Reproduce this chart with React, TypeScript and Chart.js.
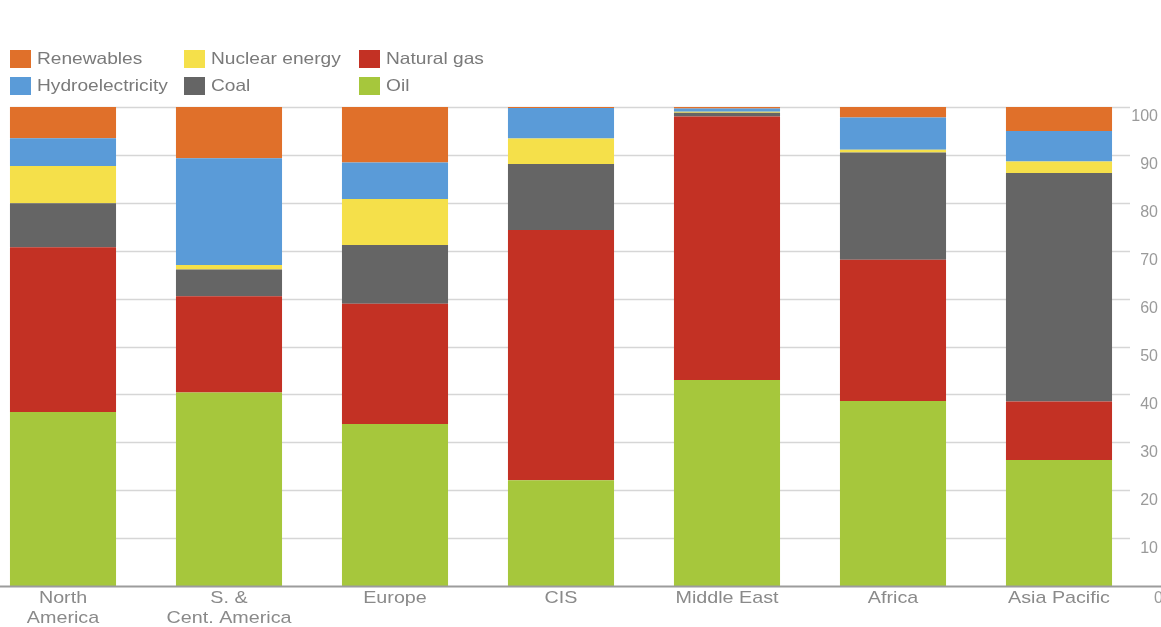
import React, { useEffect, useRef } from "react";
import { Chart, registerables } from "chart.js";

Chart.register(...registerables);

// Share of primary energy consumption by fuel, per region (%)
const regions: string[][] = [
  ["North", "America"],
  ["S. &", "Cent. America"],
  ["Europe"],
  ["CIS"],
  ["Middle East"],
  ["Africa"],
  ["Asia Pacific"],
];
const oil = [36.3, 40.4, 33.8, 22.1, 43.0, 38.6, 26.3];
const naturalGas = [34.4, 20.1, 25.1, 52.2, 55.0, 29.5, 12.2];
const coal = [9.2, 5.6, 12.3, 13.8, 0.8, 22.4, 47.7];
const nuclearEnergy = [7.8, 0.9, 9.6, 5.3, 0.2, 0.6, 2.4];
const hydroelectricity = [5.8, 22.3, 7.6, 6.4, 0.7, 6.7, 6.4];
const renewables = [6.5, 10.7, 11.6, 0.2, 0.3, 2.2, 5.0];
const yTicks = [0, 10, 20, 30, 40, 50, 60, 70, 80, 90, 100];

const COLORS = {
  oil: "#a6c73c",
  gas: "#c33124",
  coal: "#656565",
  nuclear: "#f5e04a",
  hydro: "#5a9bd8",
  renew: "#e0702a",
};

// stacked bottom to top
const series = [
  { label: "Oil", data: oil, color: COLORS.oil },
  { label: "Natural gas", data: naturalGas, color: COLORS.gas },
  { label: "Coal", data: coal, color: COLORS.coal },
  { label: "Nuclear energy", data: nuclearEnergy, color: COLORS.nuclear },
  { label: "Hydroelectricity", data: hydroelectricity, color: COLORS.hydro },
  { label: "Renewables", data: renewables, color: COLORS.renew },
];

// legend laid out in columns of two, top of stack first
const legendOrder = [...series].reverse();
const legendColumnX = [10, 184, 359];

const SHIFT = 40; // canvas extends left past the page edge
const CANVAS_W = 1161 + SHIFT;
const CANVAS_H = 627;
const FONT = "'Liberation Sans', Arial, sans-serif";
const STRETCH = 1.16; // wide-set lettering

const axisPainter = {
  id: "axisPainter",
  beforeDatasetsDraw(chart: any) {
    const { ctx } = chart;
    const y = chart.scales.y;
    ctx.save();
    ctx.strokeStyle = "#d6d6d6";
    ctx.lineWidth = 1.5;
    for (const t of yTicks) {
      if (t === 0) continue;
      const py = Math.round(y.getPixelForValue(t)) + 0.5;
      ctx.beginPath();
      ctx.moveTo(SHIFT + 10, py);
      ctx.lineTo(SHIFT + 1130, py);
      ctx.stroke();
    }
    ctx.restore();
  },
  afterDatasetsDraw(chart: any) {
    const { ctx } = chart;
    const x = chart.scales.x;
    const y = chart.scales.y;
    ctx.save();
    // baseline
    const by = Math.round(y.getPixelForValue(0)) + 0.5;
    ctx.strokeStyle = "#9c9c9c";
    ctx.lineWidth = 2;
    ctx.beginPath();
    ctx.moveTo(0, by);
    ctx.lineTo(CANVAS_W, by);
    ctx.stroke();

    // right-hand value labels
    ctx.fillStyle = "#9a9a9a";
    ctx.font = `16px ${FONT}`;
    ctx.textAlign = "right";
    ctx.textBaseline = "top";
    for (const t of yTicks) {
      const py = y.getPixelForValue(t);
      const rx = t === 0 ? SHIFT + 1163 : SHIFT + 1158;
      ctx.fillText(String(t), rx, py + (t === 0 ? 5 : 2));
    }

    // region labels
    ctx.fillStyle = "#8a8a8a";
    ctx.font = `17px ${FONT}`;
    ctx.textAlign = "center";
    regions.forEach((lines, i) => {
      const px = x.getPixelForValue(i);
      lines.forEach((line, j) => {
        ctx.save();
        ctx.translate(px, by + 3 + j * 20);
        ctx.scale(STRETCH, 1);
        ctx.fillText(line, 0, 0);
        ctx.restore();
      });
    });
    ctx.restore();
  },
};

export default function App() {
  const canvasRef = useRef<HTMLCanvasElement | null>(null);

  useEffect(() => {
    if (!canvasRef.current) return;
    const chart = new Chart(canvasRef.current, {
      type: "bar",
      data: {
        labels: regions.map((r) => r.join(" ")),
        datasets: series.map((s) => ({
          label: s.label,
          data: s.data,
          backgroundColor: s.color,
          borderWidth: 0,
          categoryPercentage: 1,
          barPercentage: 0.639,
        })),
      },
      options: {
        animation: false,
        responsive: false,
        layout: { padding: { left: 20, right: 19, top: 107, bottom: 41 } },
        plugins: { legend: { display: false }, tooltip: { enabled: false } },
        scales: {
          x: { display: false, stacked: true, offset: true },
          y: { display: false, stacked: true, min: 0, max: 100 },
        },
      },
      plugins: [axisPainter],
    });
    return () => chart.destroy();
  }, []);

  return (
    <div
      style={{
        position: "fixed",
        left: 0,
        top: 0,
        width: 1161,
        height: 627,
        overflow: "hidden",
        background: "#fff",
        fontFamily: FONT,
      }}
    >
      <canvas
        ref={canvasRef}
        width={CANVAS_W}
        height={CANVAS_H}
        style={{ position: "absolute", left: -SHIFT, top: 0, width: CANVAS_W, height: CANVAS_H }}
      />
      {legendOrder.map((s, i) => {
        const col = Math.floor(i / 2);
        const row = i % 2;
        return (
          <div
            key={s.label}
            style={{
              position: "absolute",
              left: legendColumnX[col],
              top: 49 + row * 27,
              height: 19,
              display: "flex",
              alignItems: "center",
              whiteSpace: "nowrap",
            }}
          >
            <span
              style={{
                display: "inline-block",
                width: 21,
                height: 18,
                background: s.color,
                marginRight: 6,
              }}
            />
            <span
              style={{
                color: "#7a7a7a",
                fontSize: 16.5,
                display: "inline-block",
                transform: `scaleX(${STRETCH})`,
                transformOrigin: "left center",
              }}
            >
              {s.label}
            </span>
          </div>
        );
      })}
    </div>
  );
}
